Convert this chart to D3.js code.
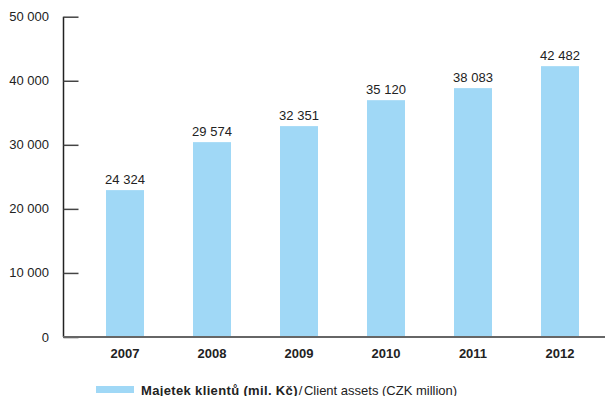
<!DOCTYPE html>
<html><head><meta charset="utf-8">
<script src="https://cdn.jsdelivr.net/npm/d3@7"></script>
<style>body{margin:0;background:#fff;}svg{display:block;font-family:"Liberation Sans",Arial,sans-serif;}</style>
</head><body><svg id="c" width="605" height="396"></svg>
<script>
const categories = ["2007","2008","2009","2010","2011","2012"];
const barValues = [22930, 30420, 32920, 36970, 38850, 42280];
const valueLabels = ["24 324","29 574","32 351","35 120","38 083","42 482"];
const yTicks = [0,10000,20000,30000,40000,50000];
const legendBold = "Majetek klientů (mil. Kč)";
const legendNormal = "Client assets (CZK million)";

const svg = d3.select("#c");
const y = d3.scaleLinear().domain([0,50000]).range([337,16.7]);
const x = d3.scaleBand().domain(categories).range([81.5,603.5]).paddingInner(0.5632).paddingOuter(0.2816);
const barColor = "#a0d8f6";
const fmt = v => d3.format(",")(v).replace(/,/g," ");

svg.append("g").selectAll("rect").data(categories).join("rect")
  .attr("x", d=>x(d)).attr("width", x.bandwidth())
  .attr("y", (d,i)=>y(barValues[i])).attr("height",(d,i)=>y(0)-y(barValues[i]))
  .attr("fill", barColor);

svg.append("g").selectAll("text").data(categories).join("text")
  .attr("x", d=>x(d)+x.bandwidth()/2).attr("y",(d,i)=>y(barValues[i])-6)
  .attr("text-anchor","middle").attr("font-size",13).attr("fill","#222")
  .text((d,i)=>valueLabels[i]);

// y axis
const ya = svg.append("g").attr("transform","translate(63.5,0)")
  .call(d3.axisRight(y).tickValues(yTicks).tickSize(15).tickFormat(""));
ya.select(".domain").attr("stroke","#222").attr("stroke-width",1.5).attr("d",`M0,${y(50000)}V${y(0)}`);
ya.selectAll(".tick line").attr("stroke","#444").attr("stroke-width",1.5);
svg.append("g").selectAll("text").data(yTicks).join("text")
  .attr("x",49).attr("y",d=>y(d)).attr("dy","0.35em").attr("text-anchor","end")
  .attr("font-size",13).attr("fill","#222").text(d=>fmt(d));

// x axis
svg.append("line").attr("x1",63).attr("x2",605).attr("y1",y(0)).attr("y2",y(0))
  .attr("stroke","#666").attr("stroke-width",2);
svg.append("g").selectAll("text").data(categories).join("text")
  .attr("x", d=>x(d)+x.bandwidth()/2).attr("y",357.5).attr("text-anchor","middle")
  .attr("font-size",13).attr("font-weight","bold").attr("fill","#222").text(d=>d);

// legend
svg.append("rect").attr("x",96).attr("y",386).attr("width",38).attr("height",7).attr("fill",barColor);
const lt = svg.append("text").attr("x",141).attr("y",394.5).attr("font-size",13).attr("fill","#222");
lt.append("tspan").attr("font-weight","bold").attr("letter-spacing","0.35").text(legendBold);
lt.append("tspan").attr("dx",1).text("/");
lt.append("tspan").attr("dx",1.5).text(legendNormal);
</script></body></html>
